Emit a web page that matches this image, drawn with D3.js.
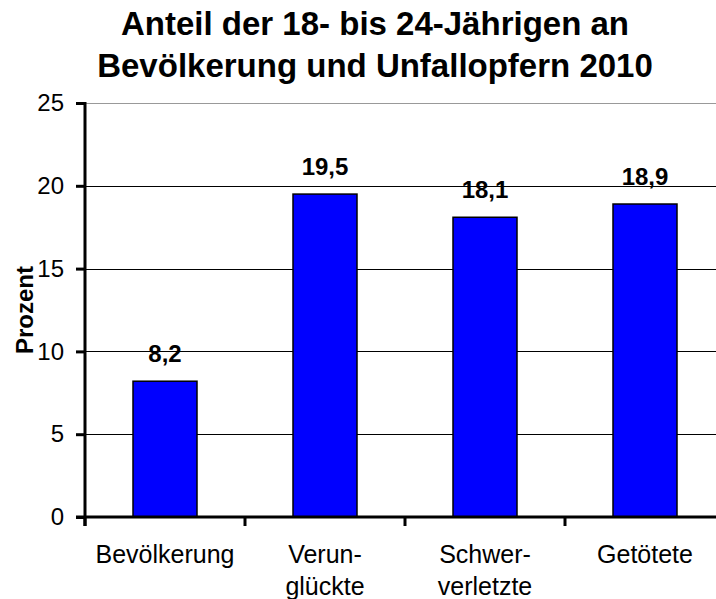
<!DOCTYPE html>
<html>
<head>
<meta charset="utf-8">
<script src="https://cdn.jsdelivr.net/npm/d3@7"></script>
<style>
  body { margin: 0; background: #fff; }
  #chart { width: 716px; height: 599px; }
  text { font-family: "Liberation Sans", Arial, sans-serif; fill: #000; }
</style>
</head>
<body>
<div id="chart"></div>
<script>
// data
const categories = [["Bevölkerung"], ["Verun-", "glückte"], ["Schwer-", "verletzte"], ["Getötete"]]
const values = [8.2, 19.5, 18.1, 18.9]
const valueLabels = ["8,2", "19,5", "18,1", "18,9"]
const yTicks = [0, 5, 10, 15, 20, 25]
const titleLines = ["Anteil der 18- bis 24-Jährigen an", "Bevölkerung und Unfallopfern 2010"]

const margin = { top: 103, left: 85 }
const plotH = 414
const step = 160

const svg = d3.select("#chart").append("svg")
    .attr("width", 716)
    .attr("height", 599)

const xScale = d3.scaleBand()
    .domain(d3.range(categories.length))
    .range([margin.left, margin.left + step * categories.length])
    .padding(0)
const yScale = d3.scaleLinear().domain([0, 25]).range([margin.top + plotH, margin.top])

// title
svg.append("text")
    .attr("x", 375)
    .attr("y", 35)
    .attr("text-anchor", "middle")
    .style("font-size", "33px")
    .style("font-weight", "bold")
    .selectAll("tspan")
    .data(titleLines)
    .join("tspan")
    .attr("x", 375)
    .attr("dy", (d, i) => i == 0 ? 0 : 42)
    .text(d => d)

// gridlines
svg.append("g")
    .selectAll("line")
    .data(yTicks.filter(d => d > 0))
    .join("line")
    .attr("x1", margin.left)
    .attr("x2", 716)
    .attr("y1", d => Math.round(yScale(d)) + 0.5)
    .attr("y2", d => Math.round(yScale(d)) + 0.5)
    .attr("stroke", d => d == 25 ? "#999" : "#000")
    .attr("stroke-width", 1)

// bars
const barW = xScale.bandwidth() * 0.4
svg.append("g")
    .selectAll("rect")
    .data(values)
    .join("rect")
    .attr("x", (d, i) => xScale(i) + (xScale.bandwidth() - barW) / 2)
    .attr("y", d => yScale(d))
    .attr("width", barW)
    .attr("height", d => yScale(0) - yScale(d))
    .attr("fill", "#0000ff")
    .attr("stroke", "#000")
    .attr("stroke-width", 1.5)

// value labels
svg.append("g")
    .selectAll("text")
    .data(values)
    .join("text")
    .attr("x", (d, i) => xScale(i) + xScale.bandwidth() / 2)
    .attr("y", d => yScale(d) - 19)
    .attr("text-anchor", "middle")
    .style("font-size", "24px")
    .style("font-weight", "bold")
    .text((d, i) => valueLabels[i])

// y axis
const yAxis = d3.axisLeft(yScale).tickValues(yTicks).tickSize(9).tickPadding(12).tickFormat(d3.format("d"))
const gy = svg.append("g")
    .attr("transform", "translate(" + margin.left + ",0)")
    .call(yAxis)
gy.select(".domain").remove()
gy.selectAll(".tick line").attr("stroke", "#000").attr("stroke-width", 3)
gy.selectAll(".tick text").style("font-size", "24px").style("font-family", "Liberation Sans, Arial, sans-serif")
gy.append("line")
    .attr("x1", 0).attr("x2", 0)
    .attr("y1", margin.top - 1).attr("y2", yScale(0) + 9)
    .attr("stroke", "#000").attr("stroke-width", 3)

// x axis
const gx = svg.append("g")
    .attr("transform", "translate(0," + yScale(0) + ")")
gx.append("line")
    .attr("x1", margin.left - 9).attr("x2", 716)
    .attr("stroke", "#000").attr("stroke-width", 3)
gx.selectAll("line.tk")
    .data(d3.range(categories.length + 1))
    .join("line")
    .attr("class", "tk")
    .attr("x1", d => margin.left + d * step)
    .attr("x2", d => margin.left + d * step)
    .attr("y1", 0).attr("y2", 9)
    .attr("stroke", "#000").attr("stroke-width", 3)
gx.selectAll("text.cat")
    .data(categories)
    .join("text")
    .attr("class", "cat")
    .attr("text-anchor", "middle")
    .style("font-size", "25px")
    .selectAll("tspan")
    .data((d, i) => d.map(t => ({ t: t, i: i })))
    .join("tspan")
    .attr("x", d => xScale(d.i) + xScale.bandwidth() / 2)
    .attr("y", (d, j) => 46 + j * 32)
    .text(d => d.t)

// y label
svg.append("text")
    .attr("transform", "rotate(-90)")
    .attr("x", -(margin.top + plotH / 2))
    .attr("y", 33)
    .attr("text-anchor", "middle")
    .style("font-size", "24px")
    .style("font-weight", "bold")
    .text("Prozent")
</script>
</body>
</html>
